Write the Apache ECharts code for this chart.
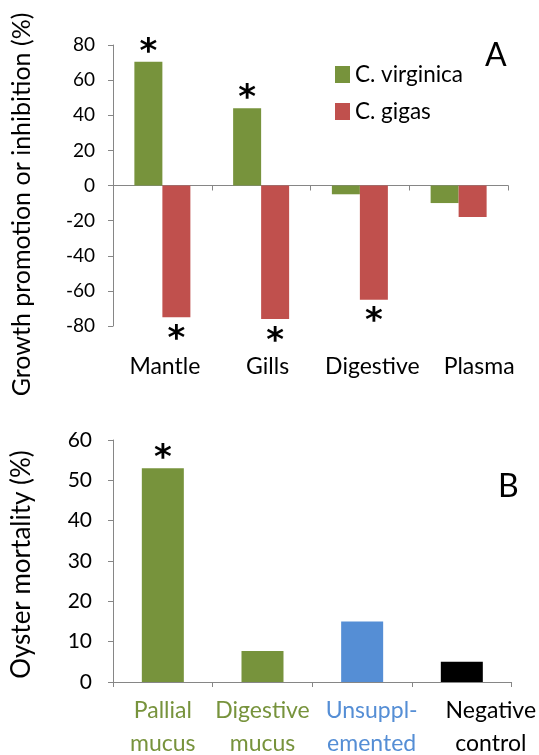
<!DOCTYPE html>
<html>
<head>
<meta charset="utf-8">
<script src="https://cdn.jsdelivr.net/npm/echarts@6/dist/echarts.min.js"></script>
<style>
html,body{margin:0;padding:0;background:#fff;}
#chart{width:539px;height:755px;}
</style>
</head>
<body>
<div id="chart"></div>
<script>
// ---- Data (panel A) ----
const categoriesA = ['Mantle', 'Gills', 'Digestive', 'Plasma'];
const virginica = [70.5, 44, -5, -10];
const gigas = [-75, -76, -65, -18];
const sigVirginica = [true, true, false, false];
const sigGigas = [true, true, true, false];
const seriesNamesA = ['C. virginica', 'C. gigas'];
const yTicksA = { min: -80, max: 80, interval: 20 };

// ---- Data (panel B) ----
const categoriesB = ['Pallial\nmucus', 'Digestive\nmucus', 'Unsuppl-\nemented', 'Negative\ncontrol'];
const mortality = [53, 7.7, 15, 5];
const sigMortality = [true, false, false, false];
const yTicksB = { min: 0, max: 60, interval: 10 };

// ---- Styles ----
const GREEN = '#77933C', RED = '#C0504D', BLUE = '#558ED5', BLACK = '#000000';
const AXIS = '#868686';
const FONT = 'Lato';
const colorsB = [GREEN, GREEN, BLUE, BLACK];
const nudgeA = [5, 13, 25, 41];   // label left padding (visual nudge)
const nudgeB = [0, 0, 19, 58];

function starData(values, sig, up) {
  return values.map((v, i) => ({
    value: v,
    label: {
      show: sig[i],
      formatter: '*',
      position: up(v) ? 'top' : 'bottom',
      distance: up(v) ? -8 : 6,
      fontFamily: 'DejaVu Sans',
      fontWeight: 'bold',
      fontSize: 34,
      color: '#000'
    }
  }));
}

const richA = {};
categoriesA.forEach((c, i) => {
  richA['c' + i] = { fontFamily: FONT, fontSize: 23, color: '#000', padding: [0, 0, 0, nudgeA[i]] };
});
const richB = {};
categoriesB.forEach((c, i) => {
  richB['c' + i] = { fontFamily: FONT, fontSize: 23, lineHeight: 33, color: colorsB[i], padding: [0, 0, 0, nudgeB[i]] };
});

const chart = echarts.init(document.getElementById('chart'), null, { renderer: 'canvas' });
chart.setOption({
  animation: false,
  backgroundColor: '#fff',
  textStyle: { fontFamily: FONT },
  title: [
    { text: 'A', left: 480, top: 35, textStyle: { fontFamily: FONT, fontSize: 32, fontWeight: 'normal', color: '#000' } },
    { text: 'B', left: 493, top: 466, textStyle: { fontFamily: FONT, fontSize: 32, fontWeight: 'normal', color: '#000' } }
  ],
  legend: {
    data: seriesNamesA,
    orient: 'vertical',
    left: 330, top: 58,
    itemWidth: 15, itemHeight: 17, itemGap: 14,
    icon: 'rect',
    textStyle: { fontFamily: FONT, fontSize: 22.5, color: '#000', padding: [0, 0, 0, 0] }
  },
  graphic: [
    { type: 'text', x: 22, y: 204.5, rotation: Math.PI / 2,
      style: { text: 'Growth promotion or inhibition (%)', font: '25px Lato', fill: '#000', align: 'center', verticalAlign: 'middle' } },
    { type: 'text', x: 22, y: 564.5, rotation: Math.PI / 2,
      style: { text: 'Oyster mortality (%)', font: '26px Lato', fill: '#000', align: 'center', verticalAlign: 'middle' } }
  ],
  grid: [
    { left: 113, right: 31, top: 45, bottom: 429 },
    { left: 113, right: 27, top: 440, bottom: 72 }
  ],
  xAxis: [
    { gridIndex: 0, type: 'category', data: categoriesA, position: 'bottom',
      axisLine: { show: false, onZero: false }, axisTick: { show: false },
      axisLabel: { interval: 0, hideOverlap: false, margin: 29, formatter: (v, i) => '{c' + i + '|' + v + '}', rich: richA } },
    { gridIndex: 0, type: 'category', data: categoriesA, position: 'top',
      axisLine: { show: true, onZero: true, lineStyle: { color: AXIS, width: 1 } },
      axisTick: { show: true, inside: true, length: 5, lineStyle: { color: AXIS } },
      axisLabel: { show: false } },
    { gridIndex: 1, type: 'category', data: categoriesB, position: 'bottom',
      axisLine: { show: true, lineStyle: { color: AXIS, width: 1 } },
      axisTick: { show: true, length: 5, lineStyle: { color: AXIS } },
      axisLabel: { interval: 0, hideOverlap: false, margin: 12, formatter: (v, i) => v.split('\n').map(s => '{c' + i + '|' + s + '}').join('\n'), rich: richB } }
  ],
  yAxis: [
    { gridIndex: 0, type: 'value', min: yTicksA.min, max: yTicksA.max, interval: yTicksA.interval,
      axisLine: { show: true, lineStyle: { color: AXIS } },
      axisTick: { show: true, length: 5, lineStyle: { color: AXIS } },
      splitLine: { show: false },
      axisLabel: { fontFamily: FONT, fontSize: 19, color: '#000', margin: 18 } },
    { gridIndex: 1, type: 'value', min: yTicksB.min, max: yTicksB.max, interval: yTicksB.interval,
      axisLine: { show: true, lineStyle: { color: AXIS } },
      axisTick: { show: true, length: 5, lineStyle: { color: AXIS } },
      splitLine: { show: false },
      axisLabel: { fontFamily: FONT, fontSize: 21, color: '#000', margin: 21 } }
  ],
  series: [
    { name: seriesNamesA[0], type: 'bar', xAxisIndex: 0, yAxisIndex: 0, barWidth: 28, barGap: '0%',
      itemStyle: { color: GREEN },
      data: starData(virginica, sigVirginica, v => v >= 0) },
    { name: seriesNamesA[1], type: 'bar', xAxisIndex: 0, yAxisIndex: 0, barWidth: 28, barGap: '0%',
      itemStyle: { color: RED },
      data: starData(gigas, sigGigas, v => v >= 0) },
    { name: 'Oyster mortality', type: 'bar', xAxisIndex: 2, yAxisIndex: 1, barWidth: 42,
      data: starData(mortality, sigMortality, v => v >= 0).map((d, i) => Object.assign(d, { itemStyle: { color: colorsB[i] } })) }
  ]
});
</script>
</body>
</html>
